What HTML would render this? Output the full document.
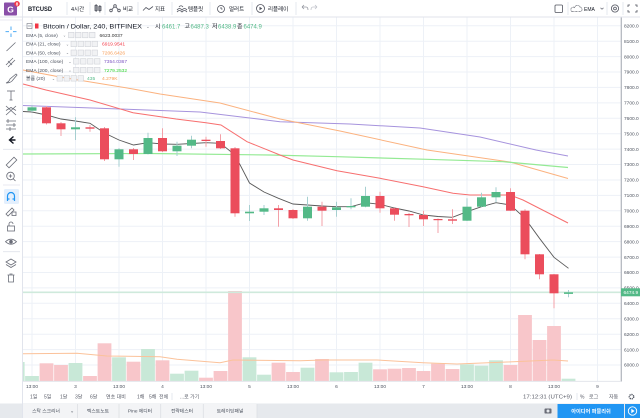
<!DOCTYPE html>
<html><head><meta charset="utf-8"><style>
html,body{margin:0;padding:0;background:#fff;width:640px;height:418px;overflow:hidden}
svg{display:block}
text{font-family:"Liberation Sans","Noto Sans CJK KR",sans-serif}
</style></head><body>
<svg width="640" height="418" viewBox="0 0 640 418" xmlns="http://www.w3.org/2000/svg">
<rect x="0" y="0" width="640" height="418" fill="#fff"/>
<!-- grid -->
<g stroke="#edf1f7" stroke-width="1">
<line x1="23" y1="25.8" x2="621" y2="25.8"/><line x1="23" y1="41.2" x2="621" y2="41.2"/><line x1="23" y1="56.6" x2="621" y2="56.6"/><line x1="23" y1="72" x2="621" y2="72"/><line x1="23" y1="87.4" x2="621" y2="87.4"/><line x1="23" y1="102.9" x2="621" y2="102.9"/><line x1="23" y1="118.3" x2="621" y2="118.3"/><line x1="23" y1="133.7" x2="621" y2="133.7"/><line x1="23" y1="149.1" x2="621" y2="149.1"/><line x1="23" y1="164.5" x2="621" y2="164.5"/><line x1="23" y1="180" x2="621" y2="180"/><line x1="23" y1="195.4" x2="621" y2="195.4"/><line x1="23" y1="210.8" x2="621" y2="210.8"/><line x1="23" y1="226.2" x2="621" y2="226.2"/><line x1="23" y1="241.6" x2="621" y2="241.6"/><line x1="23" y1="257.1" x2="621" y2="257.1"/><line x1="23" y1="272.5" x2="621" y2="272.5"/><line x1="23" y1="287.9" x2="621" y2="287.9"/><line x1="23" y1="303.3" x2="621" y2="303.3"/><line x1="23" y1="318.7" x2="621" y2="318.7"/><line x1="23" y1="334.2" x2="621" y2="334.2"/><line x1="23" y1="349.6" x2="621" y2="349.6"/><line x1="23" y1="365" x2="621" y2="365"/>
<line x1="32" y1="17" x2="32" y2="381"/><line x1="75.5" y1="17" x2="75.5" y2="381"/><line x1="119" y1="17" x2="119" y2="381"/><line x1="162.5" y1="17" x2="162.5" y2="381"/><line x1="206" y1="17" x2="206" y2="381"/><line x1="249.5" y1="17" x2="249.5" y2="381"/><line x1="293" y1="17" x2="293" y2="381"/><line x1="336.5" y1="17" x2="336.5" y2="381"/><line x1="380" y1="17" x2="380" y2="381"/><line x1="423.5" y1="17" x2="423.5" y2="381"/><line x1="467" y1="17" x2="467" y2="381"/><line x1="510.5" y1="17" x2="510.5" y2="381"/><line x1="554" y1="17" x2="554" y2="381"/><line x1="597.5" y1="17" x2="597.5" y2="381"/>
</g>
<!-- volume -->
<g>
<rect x="23" y="362" width="1.6" height="19" fill="#c8e8d7"/>
<rect x="25.1" y="376" width="13.8" height="5" fill="#c8e8d7"/>
<rect x="39.6" y="363.3" width="13.8" height="17.7" fill="#f8c6ca"/>
<rect x="54.1" y="365" width="13.8" height="16" fill="#f8c6ca"/>
<rect x="68.6" y="363" width="13.8" height="18" fill="#c8e8d7"/>
<rect x="83.1" y="376" width="13.8" height="5" fill="#f8c6ca"/>
<rect x="97.6" y="343.3" width="13.8" height="37.7" fill="#f8c6ca"/>
<rect x="112.1" y="357.3" width="13.8" height="23.7" fill="#c8e8d7"/>
<rect x="126.6" y="361.7" width="13.8" height="19.3" fill="#f8c6ca"/>
<rect x="141.1" y="349" width="13.8" height="32" fill="#c8e8d7"/>
<rect x="155.6" y="360.3" width="13.8" height="20.7" fill="#f8c6ca"/>
<rect x="170.1" y="373.7" width="13.8" height="7.3" fill="#c8e8d7"/>
<rect x="184.6" y="370.7" width="13.8" height="10.3" fill="#c8e8d7"/>
<rect x="199.1" y="377.7" width="13.8" height="3.3" fill="#f8c6ca"/>
<rect x="213.6" y="371" width="13.8" height="10" fill="#f8c6ca"/>
<rect x="228.1" y="291" width="13.8" height="90" fill="#f8c6ca"/>
<rect x="242.6" y="357.3" width="13.8" height="23.7" fill="#c8e8d7"/>
<rect x="257.1" y="374.7" width="13.8" height="6.3" fill="#c8e8d7"/>
<rect x="271.6" y="362.7" width="13.8" height="18.3" fill="#f8c6ca"/>
<rect x="286.1" y="372" width="13.8" height="9" fill="#f8c6ca"/>
<rect x="300.6" y="367.7" width="13.8" height="13.3" fill="#c8e8d7"/>
<rect x="315.1" y="359" width="13.8" height="22" fill="#f8c6ca"/>
<rect x="329.6" y="372.3" width="13.8" height="8.7" fill="#c8e8d7"/>
<rect x="344.1" y="372" width="13.8" height="9" fill="#c8e8d7"/>
<rect x="358.6" y="362.7" width="13.8" height="18.3" fill="#c8e8d7"/>
<rect x="373.1" y="369.3" width="13.8" height="11.7" fill="#f8c6ca"/>
<rect x="387.6" y="368.7" width="13.8" height="12.3" fill="#f8c6ca"/>
<rect x="402.1" y="368" width="13.8" height="13" fill="#f8c6ca"/>
<rect x="416.6" y="371" width="13.8" height="10" fill="#f8c6ca"/>
<rect x="431.1" y="363.7" width="13.8" height="17.3" fill="#f8c6ca"/>
<rect x="445.6" y="369" width="13.8" height="12" fill="#f8c6ca"/>
<rect x="460.1" y="364.3" width="13.8" height="16.7" fill="#c8e8d7"/>
<rect x="474.6" y="365.7" width="13.8" height="15.3" fill="#c8e8d7"/>
<rect x="489.1" y="360.3" width="13.8" height="20.7" fill="#c8e8d7"/>
<rect x="503.6" y="365" width="13.8" height="16" fill="#f8c6ca"/>
<rect x="518.1" y="315" width="13.8" height="66" fill="#f8c6ca"/>
<rect x="532.6" y="340" width="13.8" height="41" fill="#f8c6ca"/>
<rect x="547.1" y="326" width="13.8" height="55" fill="#f8c6ca"/>
<rect x="561.6" y="378.7" width="13.8" height="2.3" fill="#c8e8d7"/>
</g>
<!-- volume MA -->
<polyline fill="none" stroke="#fbc29a" stroke-width="1" points="23,353.7 77,353.3 107,356 160,356.7 177,359.3 220,362.7 233,360 300,360.7 323,360 377,360 423,362.7 457,364 507,362 553,360 568,361"/>
<!-- price line -->
<line x1="23" y1="292.3" x2="621" y2="292.3" stroke="#cfeadc" stroke-width="1.6"/>
<!-- EMAs -->
<polyline fill="none" stroke="#a693dd" stroke-width="1" points="23,105.5 120,109 200,112 280,121.7 350,124 420,128 480,137 536,150 568,156"/>
<polyline fill="none" stroke="#fbb27f" stroke-width="1" points="23,70 60,77 133,89 160,94 220,103 280,119 340,131 427,150 510,162 568,178.5"/>
<polyline fill="none" stroke="#94ea94" stroke-width="1.2" points="23,154 150,153.5 270,155 337,156.7 427,159.3 503,161.7 568,167.5"/>
<polyline fill="none" stroke="#f76f6f" stroke-width="1" points="23,84 46,90 90,100 133,112.7 176,119 206,122.7 221,125 247,141.7 280,155 293,160 337,170.7 380,178.3 423,186.7 453,193.3 470,195 510,195 523,200 568,223"/>
<polyline fill="none" stroke="#5a5a5a" stroke-width="0.9" points="23,111.5 32,112 46.5,115 61,119 75.5,121 90,123.3 104.5,133 119,140 133.5,145 148,142.7 162.5,144 177,144.3 191.5,143.5 206,142.7 220.5,143.3 235,155 249.5,183 264,192 278.5,198.3 293,204 307.5,205 322,206 336.5,206.7 351,206.7 365.5,202.7 380,204.3 394.5,208 409,211 423.5,215 438,216.5 452.5,217.3 467,211.7 481.5,206.7 496,202.7 510.5,205 525,218.3 539.5,238.3 554,257.3 568.5,268.3"/>
<!-- wicks -->
<g stroke-width="1">
<line x1="32" y1="105" x2="32" y2="112" stroke="#a6cfd0"/>
<line x1="46.5" y1="106" x2="46.5" y2="124.5" stroke="#f3a0a8"/>
<line x1="61" y1="122" x2="61" y2="136" stroke="#f3a0a8"/>
<line x1="75.5" y1="117.3" x2="75.5" y2="140" stroke="#a6cfd0"/>
<line x1="90" y1="125" x2="90" y2="131.7" stroke="#f3a0a8"/>
<line x1="104.5" y1="127" x2="104.5" y2="161" stroke="#f3a0a8"/>
<line x1="119" y1="148" x2="119" y2="166.7" stroke="#a6cfd0"/>
<line x1="133.5" y1="148" x2="133.5" y2="160" stroke="#f3a0a8"/>
<line x1="148" y1="132.7" x2="148" y2="154.5" stroke="#a6cfd0"/>
<line x1="162.5" y1="128.3" x2="162.5" y2="152" stroke="#f3a0a8"/>
<line x1="177" y1="141.7" x2="177" y2="156" stroke="#a6cfd0"/>
<line x1="191.5" y1="135.7" x2="191.5" y2="148.3" stroke="#a6cfd0"/>
<line x1="206" y1="136.7" x2="206" y2="146.7" stroke="#f3a0a8"/>
<line x1="220.5" y1="134.3" x2="220.5" y2="149" stroke="#f3a0a8"/>
<line x1="235" y1="147" x2="235" y2="216.7" stroke="#f3a0a8"/>
<line x1="249.5" y1="205" x2="249.5" y2="221" stroke="#a6cfd0"/>
<line x1="264" y1="205" x2="264" y2="215" stroke="#a6cfd0"/>
<line x1="278.5" y1="205" x2="278.5" y2="226.7" stroke="#f3a0a8"/>
<line x1="293" y1="209" x2="293" y2="219" stroke="#f3a0a8"/>
<line x1="307.5" y1="196.7" x2="307.5" y2="220.7" stroke="#a6cfd0"/>
<line x1="322" y1="201.7" x2="322" y2="226" stroke="#f3a0a8"/>
<line x1="336.5" y1="201.7" x2="336.5" y2="216.7" stroke="#a6cfd0"/>
<line x1="351" y1="198.3" x2="351" y2="209.3" stroke="#a6cfd0"/>
<line x1="365.5" y1="186.7" x2="365.5" y2="207.3" stroke="#a6cfd0"/>
<line x1="380" y1="191.7" x2="380" y2="212.7" stroke="#f3a0a8"/>
<line x1="394.5" y1="208" x2="394.5" y2="220.7" stroke="#f3a0a8"/>
<line x1="409" y1="213" x2="409" y2="227" stroke="#f3a0a8"/>
<line x1="423.5" y1="210.7" x2="423.5" y2="226" stroke="#f3a0a8"/>
<line x1="438" y1="218.5" x2="438" y2="233" stroke="#f3a0a8"/>
<line x1="452.5" y1="209.3" x2="452.5" y2="224" stroke="#f3a0a8"/>
<line x1="467" y1="198.3" x2="467" y2="221" stroke="#a6cfd0"/>
<line x1="481.5" y1="192.7" x2="481.5" y2="207" stroke="#a6cfd0"/>
<line x1="496" y1="187.3" x2="496" y2="202.3" stroke="#a6cfd0"/>
<line x1="510.5" y1="188.3" x2="510.5" y2="211" stroke="#f3a0a8"/>
<line x1="525" y1="209.3" x2="525" y2="259.3" stroke="#f3a0a8"/>
<line x1="539.5" y1="254" x2="539.5" y2="279.3" stroke="#f3a0a8"/>
<line x1="554" y1="274" x2="554" y2="308.3" stroke="#f3a0a8"/>
<line x1="568.5" y1="290" x2="568.5" y2="297.3" stroke="#a6cfd0"/>
</g>
<!-- bodies -->
<g>
<rect x="27.5" y="107.3" width="9" height="3.4" fill="#53b987"/>
<rect x="42" y="107.3" width="9" height="16" fill="#eb4d5c"/>
<rect x="56.5" y="123.3" width="9" height="6" fill="#eb4d5c"/>
<rect x="71" y="127.3" width="9" height="2" fill="#53b987"/>
<rect x="85.5" y="127.3" width="9" height="1.4" fill="#eb4d5c"/>
<rect x="100" y="128.3" width="9" height="31" fill="#eb4d5c"/>
<rect x="114.5" y="149.3" width="9" height="10" fill="#53b987"/>
<rect x="129" y="149.3" width="9" height="4.7" fill="#eb4d5c"/>
<rect x="143.5" y="138" width="9" height="16" fill="#53b987"/>
<rect x="158" y="138" width="9" height="13.3" fill="#eb4d5c"/>
<rect x="172.5" y="145.7" width="9" height="5.6" fill="#53b987"/>
<rect x="187" y="139.7" width="9" height="6" fill="#53b987"/>
<rect x="201.5" y="139.7" width="9" height="1.3" fill="#eb4d5c"/>
<rect x="216" y="141" width="9" height="7.3" fill="#eb4d5c"/>
<rect x="230.5" y="148.3" width="9" height="65" fill="#eb4d5c"/>
<rect x="245" y="211.7" width="9" height="1.6" fill="#53b987"/>
<rect x="259.5" y="208.3" width="9" height="3.4" fill="#53b987"/>
<rect x="274" y="208.3" width="9" height="1.7" fill="#eb4d5c"/>
<rect x="288.5" y="210" width="9" height="8.3" fill="#eb4d5c"/>
<rect x="303" y="206.7" width="9" height="11.6" fill="#53b987"/>
<rect x="317.5" y="206.7" width="9" height="4" fill="#eb4d5c"/>
<rect x="332" y="207.3" width="9" height="2.7" fill="#53b987"/>
<rect x="346.5" y="206" width="9" height="1.3" fill="#53b987"/>
<rect x="361" y="196" width="9" height="10.7" fill="#53b987"/>
<rect x="375.5" y="196" width="9" height="12.3" fill="#eb4d5c"/>
<rect x="390" y="208.3" width="9" height="6.4" fill="#eb4d5c"/>
<rect x="404.5" y="214" width="9" height="1.3" fill="#eb4d5c"/>
<rect x="419" y="215" width="9" height="4.3" fill="#eb4d5c"/>
<rect x="433.5" y="219" width="9" height="1.2" fill="#eb4d5c"/>
<rect x="448" y="219.3" width="9" height="1.4" fill="#eb4d5c"/>
<rect x="462.5" y="206.7" width="9" height="14" fill="#53b987"/>
<rect x="477" y="197.3" width="9" height="9.4" fill="#53b987"/>
<rect x="491.5" y="192" width="9" height="5.3" fill="#53b987"/>
<rect x="506" y="192" width="9" height="18.7" fill="#eb4d5c"/>
<rect x="520.5" y="210.7" width="9" height="43.6" fill="#eb4d5c"/>
<rect x="535" y="254.3" width="9" height="20" fill="#eb4d5c"/>
<rect x="549.5" y="274.3" width="9" height="19" fill="#eb4d5c"/>
<rect x="564" y="292.3" width="9" height="1.6" fill="#53b987"/>
</g>
<!-- price axis -->
<rect x="621" y="17.5" width="19" height="364" fill="#fff"/>
<line x1="621.3" y1="17" x2="621.3" y2="381.5" stroke="#b5b8c0" stroke-width="1.3"/>
<g font-size="4.8" fill="#4c525e">
<text x="624" y="27.5">8200.0</text><text x="624" y="42.9">8100.0</text><text x="624" y="58.3">8000.0</text><text x="624" y="73.7">7900.0</text><text x="624" y="89.1">7800.0</text><text x="624" y="104.6">7700.0</text><text x="624" y="120">7600.0</text><text x="624" y="135.4">7500.0</text><text x="624" y="150.8">7400.0</text><text x="624" y="166.2">7300.0</text><text x="624" y="181.7">7200.0</text><text x="624" y="197.1">7100.0</text><text x="624" y="212.5">7000.0</text><text x="624" y="227.9">6900.0</text><text x="624" y="243.3">6800.0</text><text x="624" y="258.8">6700.0</text><text x="624" y="274.2">6600.0</text><text x="624" y="289.6">6500.0</text><text x="624" y="305">6400.0</text><text x="624" y="320.4">6300.0</text><text x="624" y="335.9">6200.0</text><text x="624" y="351.3">6100.0</text><text x="624" y="366.7">6000.0</text>
</g>
<rect x="621" y="288.3" width="19" height="8" fill="#53b987"/>
<text x="623.5" y="294" font-size="4.8" fill="#fff">6474.9</text>
<!-- time axis -->
<line x1="23" y1="381.3" x2="621" y2="381.3" stroke="#dfe2e8" stroke-width="0.8"/>
<g font-size="4.8" fill="#4c525e" text-anchor="middle">
<text x="32" y="387.8">13:00</text><text x="75.5" y="387.8">3</text><text x="119" y="387.8">13:00</text><text x="162.5" y="387.8">4</text><text x="206" y="387.8">13:00</text><text x="249.5" y="387.8">5</text><text x="293" y="387.8">13:00</text><text x="336.5" y="387.8">6</text><text x="380" y="387.8">13:00</text><text x="423.5" y="387.8">7</text><text x="467" y="387.8">13:00</text><text x="510.5" y="387.8">8</text><text x="554" y="387.8">13:00</text><text x="597.5" y="387.8">9</text>
</g>
<!-- period bar -->
<g font-size="5" fill="#5d606b">
<text x="30" y="398.5">1일</text><text x="44" y="398.5">5일</text><text x="60" y="398.5">1달</text><text x="75" y="398.5">3달</text><text x="90" y="398.5">6달</text><text x="106" y="398.5">연초 대비</text><text x="137" y="398.5">1해</text><text x="149" y="398.5">5해</text><text x="159" y="398.5">전체</text><text x="180" y="398.5">...로 가기</text>
<text x="523" y="398.5" textLength="49" lengthAdjust="spacingAndGlyphs">17:12:31 (UTC+9)</text>
<text x="580" y="398.5">%</text><text x="589" y="398.5">로그</text><text x="609" y="398.5">자동</text>
</g>
<line x1="172" y1="393" x2="172" y2="400" stroke="#e0e3eb" stroke-width="0.8"/>
<line x1="577" y1="393" x2="577" y2="400" stroke="#e0e3eb" stroke-width="0.8"/>
<circle cx="631.5" cy="396.7" r="2.2" fill="none" stroke="#4c525e" stroke-width="1.4" stroke-dasharray="1.2 0.8"/>
<!-- bottom tabs -->
<rect x="0" y="403.5" width="640" height="14.5" fill="#e6e9ed"/>
<rect x="23" y="404" width="234" height="14" fill="#f3f4f6"/>
<g stroke="#dcdfe4" stroke-width="0.8"><line x1="77.5" y1="404" x2="77.5" y2="418"/><line x1="119" y1="404" x2="119" y2="418"/><line x1="160.7" y1="404" x2="160.7" y2="418"/><line x1="203.3" y1="404" x2="203.3" y2="418"/><line x1="257" y1="404" x2="257" y2="418"/></g>
<g font-size="4.8" fill="#4c525e" text-anchor="middle">
<text x="46" y="412.5">스탁 스크리너</text><text x="72" y="412.5">⌄</text><text x="98" y="412.5">텍스트노트</text><text x="140" y="412.5">Pine 에디터</text><text x="182" y="412.5">전략테스터</text><text x="230" y="412.5">트레이딩패널</text>
</g>
<rect x="544.5" y="408.5" width="7" height="5" rx="0.8" fill="#6a6d78"/><circle cx="548" cy="411" r="1.5" fill="#e6e9ed"/>
<rect x="557.5" y="404" width="66.5" height="14" fill="#2196f3"/>
<text x="591" y="412.8" font-size="5.2" fill="#fff" text-anchor="middle" font-weight="bold">아이디어 퍼블리쉬</text>
<rect x="625" y="404" width="15" height="14" fill="#2196f3"/>
<circle cx="632.5" cy="411" r="4.2" fill="none" stroke="#fff" stroke-width="0.9"/>
<polygon points="631.3,408.8 631.3,413.2 634.6,411" fill="#fff"/>
<!-- top toolbar -->
<rect x="0" y="0" width="640" height="17" fill="#fff"/>
<line x1="0" y1="17" x2="640" y2="17" stroke="#e0e3eb" stroke-width="0.9"/>
<line x1="22.5" y1="0" x2="22.5" y2="418" stroke="#e0e3eb" stroke-width="0.8"/>
<rect x="4" y="2.5" width="13" height="13" rx="1" fill="#8a4fa8"/>
<text x="10.5" y="12.5" font-size="8.5" fill="#fff" text-anchor="middle" font-weight="bold">G</text>
<circle cx="17" cy="3.8" r="2.8" fill="#f23645"/>
<text x="17" y="5.6" font-size="4.5" fill="#fff" text-anchor="middle" font-weight="bold">8</text>
<text x="28" y="10.8" font-size="6.2" font-weight="bold" fill="#131722" textLength="24" lengthAdjust="spacingAndGlyphs">BTCUSD</text>
<g stroke="#e0e3eb" stroke-width="0.8"><line x1="67" y1="2" x2="67" y2="15"/><line x1="90" y1="2" x2="90" y2="15"/><line x1="105" y1="2" x2="105" y2="15"/><line x1="138" y1="2" x2="138" y2="15"/><line x1="172" y1="2" x2="172" y2="15"/><line x1="210" y1="2" x2="210" y2="15"/><line x1="252" y1="2" x2="252" y2="15"/><line x1="296" y1="2" x2="296" y2="15"/><line x1="568" y1="2" x2="568" y2="15"/><line x1="607" y1="2" x2="607" y2="15"/><line x1="623" y1="2" x2="623" y2="15"/></g>
<g font-size="5.5" fill="#131722">
<text x="71" y="10.8">4시간</text><text x="123" y="10.8">비교</text><text x="155" y="10.8">지표</text><text x="188" y="10.8">템플릿</text><text x="229" y="10.8">얼러트</text><text x="268" y="10.8">리플레이</text><text x="584" y="10.8" font-size="5">EMA</text>
</g>
<g stroke="#50535e" stroke-width="0.8" fill="none">
<rect x="95" y="5.5" width="2.2" height="5"/><line x1="96.1" y1="4" x2="96.1" y2="12"/><rect x="98.8" y="6.5" width="2.2" height="4"/><line x1="99.9" y1="5" x2="99.9" y2="12.5"/>
<circle cx="111" cy="10.5" r="1.3"/><circle cx="115" cy="6" r="1.3"/><circle cx="119" cy="10.5" r="1.3"/><line x1="112" y1="9.5" x2="114" y2="7"/><line x1="116" y1="7" x2="118" y2="9.5"/>
<polyline points="143,10.5 146,7.5 149,9.5 153,6.5"/>
<path d="M177,10 q2.5,-3 5,0 q2.5,-3 5,0 M177,12 q2.5,-3 5,0 q2.5,-3 5,0 M179,7 q2,-2.5 4,0"/>
<circle cx="221" cy="9" r="3.5"/><line x1="221" y1="9" x2="221" y2="7"/><line x1="221" y1="9" x2="222.5" y2="9"/>
<circle cx="260.5" cy="8.5" r="4" /><polygon points="259.5,6.7 259.5,10.3 262.3,8.5" fill="#50535e" stroke="none"/>
<path d="M302,7 l2,-2 M302,7 l2,2 M302,7 h4 q2,0 2,3" stroke="#9598a1"/>
<path d="M317,7 l-2,-2 M317,7 l-2,2 M317,7 h-4 q-2,0 -2,3" stroke="#c1c4cb"/>
<rect x="555" y="5" width="7.5" height="7.5" rx="1"/>
<path d="M572,11.5 h9 a2.5,2.5 0 0 0 -1,-4.5 a3,3 0 0 0 -5.5,0.5 a2,2 0 0 0 -2.5,4" stroke-dasharray="0.8 0.6"/>
<polyline points="600.5,7.8 602,9.2 603.5,7.8" stroke="#787b86"/>
<circle cx="615" cy="8.5" r="3.6"/><circle cx="615" cy="8.5" r="1.4"/>
<path d="M628,7 v-2 h2 M637,7 v-2 h-2 M628,10 v2 h2 M637,10 v2 h-2"/>
</g>
<!-- legend -->
<rect x="27" y="23.5" width="5" height="5" fill="none" stroke="#787b86" stroke-width="0.6"/><line x1="28" y1="26" x2="31" y2="26" stroke="#787b86" stroke-width="0.6"/>
<rect x="35" y="23.5" width="3.5" height="5" fill="#f23645"/>
<text x="43" y="28.3" font-size="6.4" fill="#131722" textLength="99" lengthAdjust="spacingAndGlyphs">Bitcoin / Dollar, 240, BITFINEX</text>
<text x="146" y="28" font-size="4.5" fill="#787b86">⌄</text>
<g font-size="6">
<text x="155" y="28.3" fill="#131722">시</text><text x="162" y="28.3" fill="#53b987">6461.7</text>
<text x="184.5" y="28.3" fill="#131722">고</text><text x="190.5" y="28.3" fill="#53b987">6487.3</text>
<text x="212" y="28.3" fill="#131722">저</text><text x="218" y="28.3" fill="#53b987">6438.9</text>
<text x="237" y="28.3" fill="#131722">종</text><text x="243.5" y="28.3" fill="#53b987">6474.9</text>
</g>
<g font-size="4.9" fill="#4c525e">
<text x="26" y="36.8">EMA (5, close)</text><text x="26" y="45.7">EMA (21, close)</text><text x="26" y="54.5">EMA (50, close)</text><text x="26" y="63.1">EMA (100, close)</text><text x="26" y="71.8">EMA (200, close)</text><text x="26" y="80.1">볼륨 (20)</text>
<text x="63" y="36.5" font-size="3.5">⌄</text><text x="66" y="45.4" font-size="3.5">⌄</text><text x="66" y="54.2" font-size="3.5">⌄</text><text x="68.5" y="62.8" font-size="3.5">⌄</text><text x="68.5" y="71.5" font-size="3.5">⌄</text><text x="52" y="79.8" font-size="3.5">⌄</text>
</g>
<g fill="#f1f2f4" stroke="#c9ccd2" stroke-width="0.5">
<rect x="68.5" y="32.3" width="5.5" height="5.5"/><rect x="75.5" y="32.3" width="5.5" height="5.5"/><rect x="82.5" y="32.3" width="5.5" height="5.5"/><rect x="89.5" y="32.3" width="5.5" height="5.5"/>
<rect x="71" y="41.2" width="5.5" height="5.5"/><rect x="78" y="41.2" width="5.5" height="5.5"/><rect x="85" y="41.2" width="5.5" height="5.5"/><rect x="92" y="41.2" width="5.5" height="5.5"/>
<rect x="71" y="50" width="5.5" height="5.5"/><rect x="78" y="50" width="5.5" height="5.5"/><rect x="85" y="50" width="5.5" height="5.5"/><rect x="92" y="50" width="5.5" height="5.5"/>
<rect x="73.5" y="58.6" width="5.5" height="5.5"/><rect x="80.5" y="58.6" width="5.5" height="5.5"/><rect x="87.5" y="58.6" width="5.5" height="5.5"/><rect x="94.5" y="58.6" width="5.5" height="5.5"/>
<rect x="73.5" y="67.3" width="5.5" height="5.5"/><rect x="80.5" y="67.3" width="5.5" height="5.5"/><rect x="87.5" y="67.3" width="5.5" height="5.5"/><rect x="94.5" y="67.3" width="5.5" height="5.5"/>
<rect x="57" y="75.6" width="5.5" height="5.5"/><rect x="64" y="75.6" width="5.5" height="5.5"/><rect x="71" y="75.6" width="5.5" height="5.5"/><rect x="78" y="75.6" width="5.5" height="5.5"/>
</g>
<g font-size="4.9">
<text x="99.5" y="36.8" fill="#333">6623.0037</text>
<text x="102" y="45.7" fill="#f23645">6919.9541</text>
<text x="102" y="54.5" fill="#f79a52">7206.6426</text>
<text x="104" y="63.1" fill="#7e57c2">7354.0367</text>
<text x="104" y="71.8" fill="#35d435">7279.2532</text>
<text x="87" y="80.1" fill="#53b987">435</text>
<text x="102" y="80.1" fill="#f79a52">4.279K</text>
</g>
<!-- left toolbar -->
<rect x="0" y="17.5" width="22" height="386" fill="#fff"/>
<line x1="22.5" y1="17" x2="22.5" y2="403.5" stroke="#e0e3eb" stroke-width="0.8"/>
<g stroke="#2196f3" stroke-width="0.8"><line x1="11" y1="26.5" x2="11" y2="30"/><line x1="11" y1="33.5" x2="11" y2="37"/><line x1="5.5" y1="31.7" x2="9" y2="31.7"/><line x1="13" y1="31.7" x2="16.5" y2="31.7"/></g>
<g stroke="#6a6d78" stroke-width="0.8" fill="none">
<line x1="6.5" y1="51" x2="15.5" y2="42.5"/>
<line x1="6" y1="65" x2="13" y2="58"/><line x1="8" y1="67" x2="15" y2="60"/><line x1="8" y1="61" x2="12" y2="65"/>
<path d="M6,83 q3,-1 4,-4 l6,-5 l1,1 l-5,6 q-2,2 -6,2"/>
<line x1="7" y1="91" x2="15" y2="91"/><line x1="11" y1="91" x2="11" y2="100"/><line x1="9.5" y1="100" x2="12.5" y2="100"/>
<path d="M6,106 l10,9 M16,106 l-10,9 M6,110.5 l5,-3 l5,3"/>
<path d="M6,121 h10 M6,125 h10 M6,129 h10 M8,119 v4 M14,123 v4 M10,127 v4"/>
<line x1="3" y1="149.3" x2="20" y2="149.3" stroke="#e0e3eb"/>
<rect x="6" y="160.5" width="11" height="4" transform="rotate(-45 11.5 162.5)"/>
<circle cx="10.5" cy="176" r="3.8"/><line x1="13.3" y1="178.8" x2="15.5" y2="181"/><line x1="8.8" y1="176" x2="12.2" y2="176"/><line x1="10.5" y1="174.3" x2="10.5" y2="177.7"/>
<line x1="3" y1="185" x2="20" y2="185" stroke="#e0e3eb"/>
<path d="M6,214 l6,-6 l2,2 l-6,6 z"/><rect x="12" y="212" width="4" height="3.5"/>
<rect x="7.5" y="226" width="7" height="5"/><path d="M9,226 v-2 a2,2 0 0 1 4,0"/>
<path d="M5.5,241.7 q5.5,-5 11,0 q-5.5,5 -11,0 z"/><circle cx="11" cy="241.7" r="1.4" fill="#6a6d78"/>
<line x1="3" y1="251.7" x2="20" y2="251.7" stroke="#e0e3eb"/>
<path d="M6,262 l5,-3 l5,3 l-5,3 z M6,264.5 l5,3 l5,-3"/>
<path d="M7.5,275 h7 M8.5,275 v7 h5 v-7 M9.5,274 h3"/>
</g>
<path d="M13.5,136.5 l-4,3.5 l4,3.5 M9.5,140 h6" stroke="#131722" stroke-width="1.4" fill="none"/>
<rect x="4" y="189" width="15" height="15" rx="1.5" fill="#e3effd"/>
<path d="M7.5,201 v-5 a3.5,3.5 0 0 1 7,0 v5 M7.5,199 h2 M12.5,199 h2" stroke="#2196f3" stroke-width="1.2" fill="none"/>
<line x1="0" y1="20" x2="22" y2="20" stroke="#e0e3eb" stroke-width="0.8"/>
</svg>
</body></html>
